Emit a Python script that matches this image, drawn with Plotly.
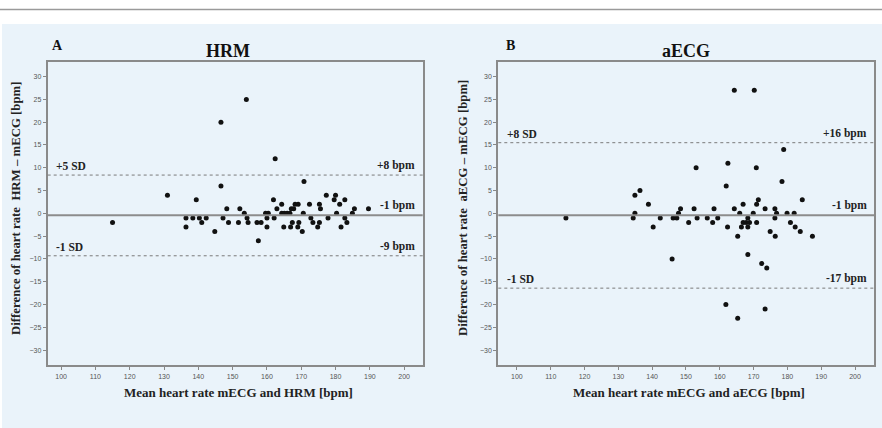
import plotly.graph_objects as go

# ---------------- data ----------------
hrm_mean_hr = [115, 131, 139.4, 146.6, 154, 146.6, 162.4, 170.8, 136.4, 136.4, 138.4, 140.3,
               141, 142.3, 144.8, 147.2, 148.3, 148.8, 151.7, 152.1, 153.4, 154.2, 154.5,
               157.1, 158.3, 157.5, 159.6, 160.4, 160, 160, 161.9, 162.1, 162.9, 164.3,
               164.3, 165.1, 165.9, 166.7, 164.9, 166.9, 167.1, 167.4, 167.8, 168.2, 169.1,
               169.0, 169.3, 170.3, 170.6, 172.4, 172.8, 173.4, 174.8, 175.3, 175.6, 175.3,
               177.3, 177.8, 180, 179.6, 180.3, 181.2, 182.7, 181.6, 182.7, 183.3, 184.9,
               185.5, 189.6]
hrm_diff = [-2, 4, 3, 20, 25, 6, 12, 7, -1, -3, -1, -1,
            -2, -1, -4, -1, 1, -2, -2, 1, 0, -1, -2,
            -2, -2, -6, 0, 0, -1, -3, 3, -1, 1, 2,
            0, 0, 0, 0, -3, -3, 1, -2, 1, 2, 2,
            -3, -2, -4, 0, 2, -1, -2, -3, 2, 1, -2,
            4, -1, 4, 3, 0, 2, 3, -3, -1, -2, 0,
            1, 1]

aecg_mean_hr = [114.5, 134.9, 136.4, 138.9, 134.9, 134.4, 140.3, 142.4, 146.2, 147.3, 147.8,
                148.4, 145.9, 150.8, 152.4, 153, 153.3, 156.3, 157.9, 158.3, 159.4, 161.9,
                162.4, 161.8, 162.3, 164.3, 164.3, 165.3, 165.3, 165.9, 166.4, 166.9, 166.9,
                167.8, 168.8, 168.3, 168.3, 168.3, 169.9, 170.2, 170.8, 170.9, 171.4, 170.9,
                172.4, 173.4, 173.4, 173.9, 174.9, 176.3, 176.8, 176.3, 176.4, 178.4, 178.9,
                179.9, 180.9, 182, 182.3, 183.8, 184.4, 187.4]
aecg_diff = [-1, 4, 5, 2, 0, -1, -3, -1, -1, -1, 0,
             1, -10, -2, 1, 10, -1, -1, -2, 1, -1, 6,
             11, -20, -3, 27, 1, -5, -23, 0, -3, 2, -2,
             -2, -2, -1, -3, -9, 0, 27, 10, 2, 3, -2,
             -11, 1, -21, -12, -4, 1, 0, -1, -5, 7, 14,
             0, -2, 0, -3, -4, 3, -5]

# limits of agreement: [mean, upper, lower]
hrm_limits = [-0.4, 8.4, -9.3]
aecg_limits = [-0.4, 15.5, -16.4]
hrm_limit_labels = ["-1 bpm", "+8 bpm", "-9 bpm"]
aecg_limit_labels = ["-1 bpm", "+16 bpm", "-17 bpm"]
hrm_sd_labels = ["+5 SD", "-1 SD"]
aecg_sd_labels = ["+8 SD", "-1 SD"]

x_ticks = list(range(100, 201, 10))
y_ticks = list(range(-30, 31, 5))

panel_letters = ["A", "B"]
panel_titles = ["HRM", "aECG"]
x_titles = ["Mean heart rate mECG and HRM [bpm]", "Mean heart rate mECG and aECG [bpm]"]
y_titles = ["Difference of heart rate  HRM \u2013 mECG [bpm]",
            "Difference of heart rate  aECG \u2013 mECG [bpm]"]

# ---------------- figure ----------------
W, H = 882, 428
SERIF = "Liberation Serif, Times New Roman, serif"
SANS = "Liberation Sans, Arial, sans-serif"

fig = go.Figure()

fig.add_trace(go.Scatter(x=hrm_mean_hr, y=hrm_diff, mode="markers", xaxis="x", yaxis="y",
                         marker=dict(color="#111111", size=5), showlegend=False))
fig.add_trace(go.Scatter(x=aecg_mean_hr, y=aecg_diff, mode="markers", xaxis="x2", yaxis="y2",
                         marker=dict(color="#111111", size=5), showlegend=False))

def px_x(p):
    return p / W

def px_y(p):
    return 1 - p / H

dom_left = [px_x(47.7), px_x(422.7)]
dom_right = [px_x(498.3), px_x(874.3)]
dom_y = [px_y(365.2), px_y(62)]

axis_common = dict(
    showgrid=False, zeroline=False, ticks="outside", ticklen=3, tickwidth=1,
    tickcolor="#888888", tickfont=dict(family=SANS, size=7, color="#555555"),
    showline=True, linecolor="#8a8a8a", linewidth=2, mirror=True,
)

fig.update_layout(
    width=W, height=H, margin=dict(l=0, r=0, t=0, b=0),
    paper_bgcolor="white", plot_bgcolor="#dde6ee",
    xaxis=dict(domain=dom_left, range=[96.1, 205.4], tickvals=x_ticks, anchor="y", **axis_common),
    yaxis=dict(domain=dom_y, range=[-33.3, 33.2], tickvals=y_ticks, anchor="x", **axis_common),
    xaxis2=dict(domain=dom_right, range=[94.5, 205.7], tickvals=x_ticks, anchor="y2", **axis_common),
    yaxis2=dict(domain=dom_y, range=[-33.3, 33.2], tickvals=y_ticks, anchor="x2", **axis_common),
)

shapes = [
    dict(type="rect", xref="paper", yref="paper", x0=px_x(2), x1=1, y0=0, y1=px_y(24),
         fillcolor="#eaf3fa", line=dict(width=0), layer="below"),
    dict(type="line", xref="paper", yref="paper", x0=0, x1=1, y0=px_y(9.5), y1=px_y(9.5),
         line=dict(color="#9a9a9a", width=1.5)),
]

for xa, ya, lims in [("x", "y", hrm_limits), ("x2", "y2", aecg_limits)]:
    mean, up, lo = lims
    shapes.append(dict(type="line", xref=xa + " domain", yref=ya, x0=0, x1=1, y0=mean, y1=mean,
                       line=dict(color="#8c8c8c", width=2)))
    for v in (up, lo):
        shapes.append(dict(type="line", xref=xa + " domain", yref=ya, x0=0, x1=1, y0=v, y1=v,
                           line=dict(color="#7a7a7a", width=1, dash="dot")))

fig.update_layout(shapes=shapes)

ann = []
lab_font = dict(family=SERIF, size=11.5, color="#222222")
for xa, ya, lims, llabs, sdlabs in [("x", "y", hrm_limits, hrm_limit_labels, hrm_sd_labels),
                                     ("x2", "y2", aecg_limits, aecg_limit_labels, aecg_sd_labels)]:
    mean, up, lo = lims
    for v, t in zip([mean, up, lo], llabs):
        ann.append(dict(xref=xa + " domain", yref=ya, x=0.985, y=v, text="<b>%s</b>" % t,
                        showarrow=False, xanchor="right", yanchor="bottom", yshift=1,
                        font=lab_font))
    for v, t in zip([up, lo], sdlabs):
        ann.append(dict(xref=xa + " domain", yref=ya, x=0.018, y=v, text="<b>%s</b>" % t,
                        showarrow=False, xanchor="left", yanchor="bottom", yshift=1,
                        font=lab_font))

for cx, lx, letter, title in [(228, 50, panel_letters[0], panel_titles[0]),
                              (686, 504, panel_letters[1], panel_titles[1])]:
    ann.append(dict(xref="paper", yref="paper", x=px_x(lx), y=px_y(45), text="<b>%s</b>" % letter,
                    showarrow=False, xanchor="left", yanchor="middle",
                    font=dict(family=SERIF, size=14, color="#111111")))
    ann.append(dict(xref="paper", yref="paper", x=px_x(cx), y=px_y(51), text="<b>%s</b>" % title,
                    showarrow=False, xanchor="center", yanchor="middle",
                    font=dict(family=SERIF, size=18, color="#111111")))

for cx, yx, xt, yt in [(238, 16, x_titles[0], y_titles[0]), (689, 463, x_titles[1], y_titles[1])]:
    ann.append(dict(xref="paper", yref="paper", x=px_x(cx), y=px_y(392), text="<b>%s</b>" % xt,
                    showarrow=False, xanchor="center", yanchor="middle",
                    font=dict(family=SERIF, size=13, color="#222222")))
    ann.append(dict(xref="paper", yref="paper", x=px_x(yx), y=px_y(208), text="<b>%s</b>" % yt,
                    showarrow=False, xanchor="center", yanchor="middle", textangle=-90,
                    font=dict(family=SERIF, size=12.8, color="#222222")))

fig.update_layout(annotations=ann)

fig.write_html("out.html", config={"displayModeBar": False},
               post_script="document.body.style.margin='0';document.body.style.overflow='hidden';")
